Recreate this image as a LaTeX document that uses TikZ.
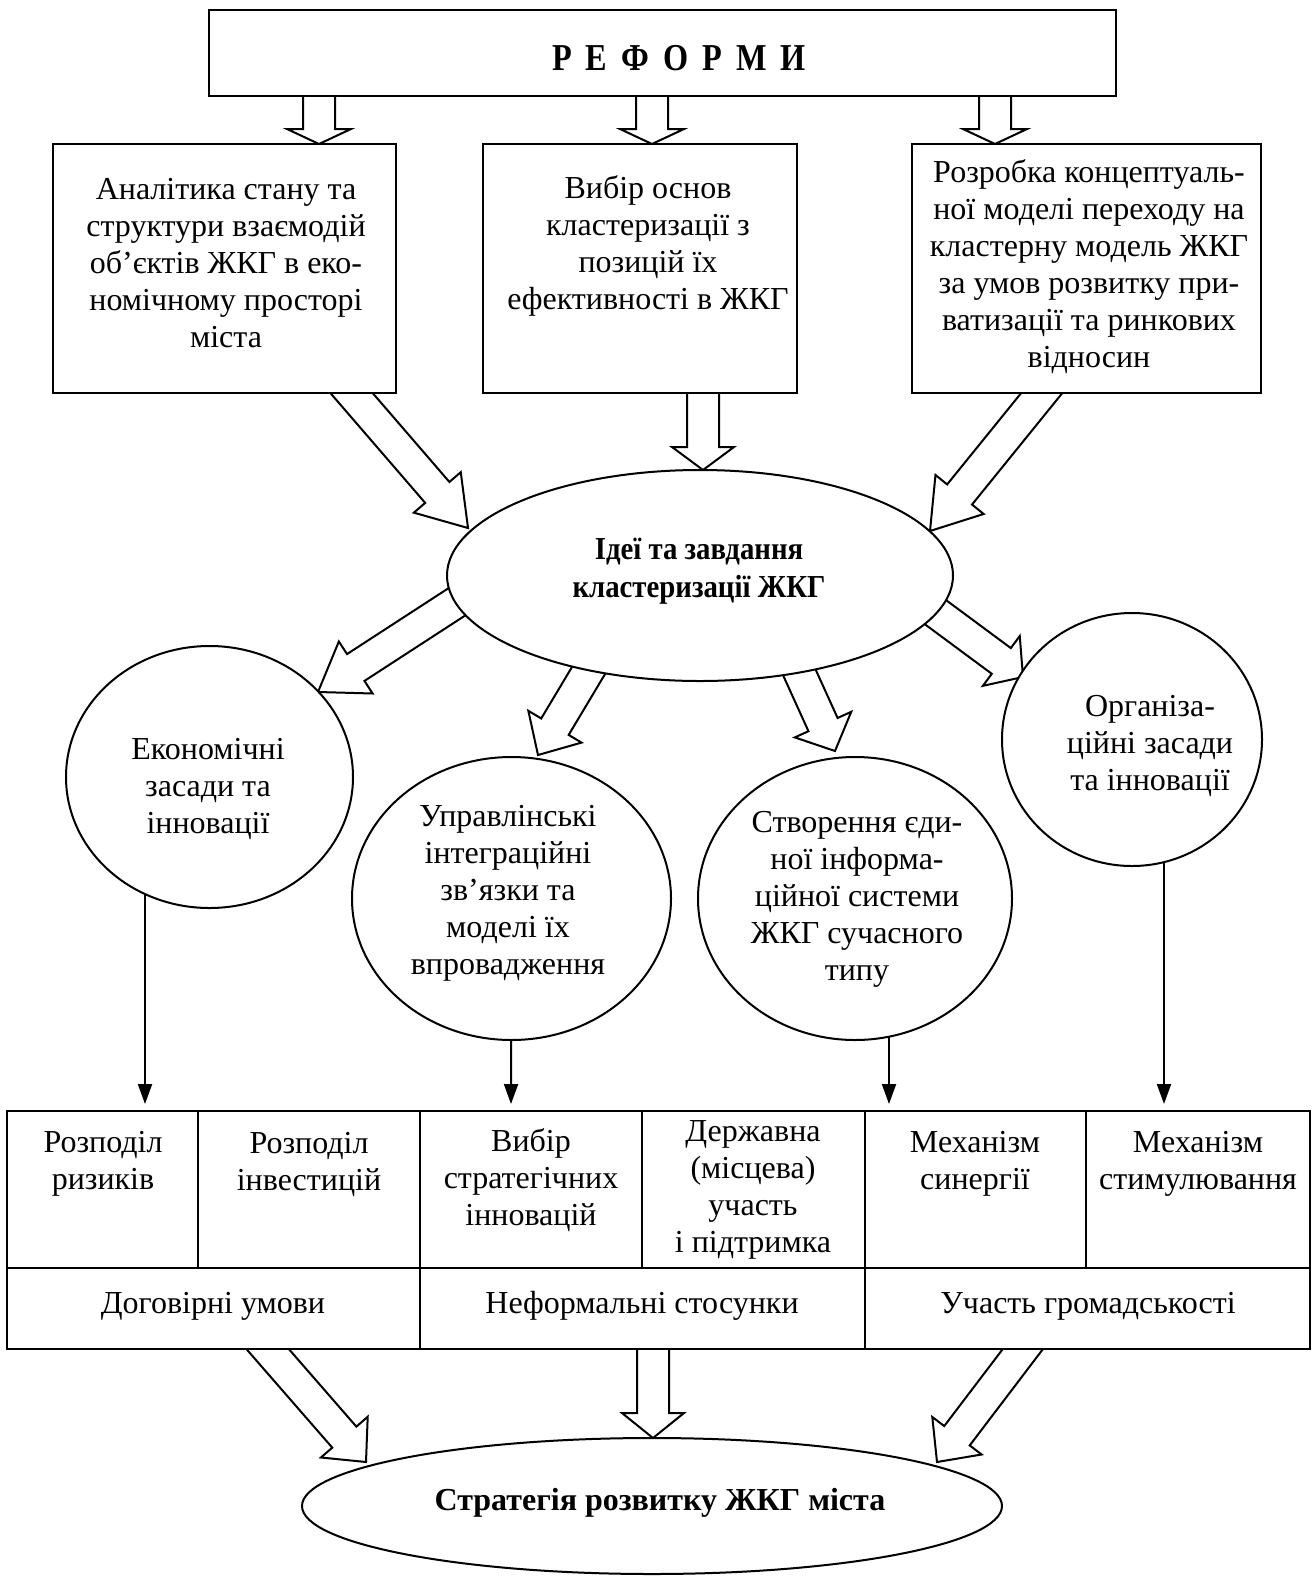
\documentclass[tikz,border=0pt]{standalone}
\usepackage{fontspec}
\setmainfont{Liberation Serif}
\newfontfamily\condA[FakeStretch=0.85]{Liberation Serif}
\newfontfamily\condB[FakeStretch=0.9]{Liberation Serif}
\usetikzlibrary{calc,shapes.geometric,arrows.meta}
\pgfdeclarelayer{bg}
\pgfsetlayers{bg,main}
\tikzset{
  every node/.style={inner sep=0pt, outer sep=0pt},
  shp/.style={draw, line width=2pt, fill=white},
  boxnode/.style={shp, rectangle},
  ellnode/.style={shp, ellipse},
  txt/.style={align=center, font=\fontsize{32}{37}\selectfont},
  ttxt/.style={align=center, font=\fontsize{32}{37}\selectfont},
  btxt/.style={align=center, font=\fontsize{32}{38}\selectfont\bfseries},
  blockarr/.style={draw, line width=2pt, fill=white, line join=miter},
  thinarr/.style={draw, line width=2pt, -{Triangle[width=14pt,length=20pt]}},
  tline/.style={draw, line width=2pt},
}
\newcommand\blockarrow[5]{%
  \coordinate (baS) at #1;
  \coordinate (baT) at #2;
  \coordinate (baH) at ($(baT)!#5!(baS)$);
  \draw[blockarr] ($(baS)!#3!90:(baT)$) -- ($(baH)!#3!-90:(baS)$) -- ($(baH)!#4!-90:(baS)$) -- (baT) -- ($(baH)!#4!90:(baS)$) -- ($(baH)!#3!90:(baS)$) -- ($(baS)!#3!-90:(baT)$);
}
\begin{document}
\begin{tikzpicture}[x=1pt,y=-1pt]
\useasboundingbox (0,0) rectangle (1314,1580);

% top box
\node[boxnode, minimum width=907pt, minimum height=86pt] (reform) at (662,53) {};
\node[font=\fontsize{38}{44}\condA\bfseries] (reformt) at (679,58) {Р\hspace{14pt}Е\hspace{14pt}Ф\hspace{14pt}О\hspace{14pt}Р\hspace{14pt}М\hspace{14pt}И};

% first row boxes
\node[boxnode, minimum width=343pt, minimum height=249pt] (b1) at (224.5,268.5) {};
\node[txt] (b1t) at (226,263) {Аналітика стану та\\структури взаємодій\\об’єктів ЖКГ в еко-\\номічному просторі\\міста};
\node[boxnode, minimum width=314pt, minimum height=249pt] (b2) at (640,268.5) {};
\node[txt] (b2t) at (648,246) {Вибір основ\\кластеризації з\\позицій їх\\ефективності в ЖКГ};
\node[boxnode, minimum width=349pt, minimum height=249pt] (b3) at (1086.5,268.5) {};
\node[txt] (b3t) at (1089,267) {Розробка концептуаль-\\ної моделі переходу на\\кластерну модель ЖКГ\\за умов розвитку при-\\ватизації та ринкових\\відносин};

% central ellipse
\node[ellnode, minimum width=506pt, minimum height=211pt] (idea) at (700,575.5) {};
\node[align=center, font=\fontsize{32}{38}\condB\bfseries] (ideat) at (699,571) {Ідеї та завдання\\кластеризації ЖКГ};

% circles
\node[ellnode, minimum width=287pt, minimum height=262pt] (eA) at (209.5,777) {};
\node[txt] (eAt) at (208,789) {Економічні\\засади та\\інновації};
\node[ellnode, minimum width=319pt, minimum height=283pt] (eB) at (511.5,898.5) {};
\node[txt] (eBt) at (508,893) {Управлінські\\інтеграційні\\зв’язки та\\моделі їх\\впровадження};
\node[ellnode, minimum width=314pt, minimum height=283pt] (eC) at (855,898.5) {};
\node[txt] (eCt) at (857,899) {Створення єди-\\ної інформа-\\ційної системи\\ЖКГ сучасного\\типу};
\node[ellnode, minimum width=260pt, minimum height=253pt] (eD) at (1132,739.5) {};
\node[txt] (eDt) at (1150,746) {Організа-\\ційні засади\\та інновації};

% table
\node[boxnode, minimum width=1303pt, minimum height=238pt, anchor=north west] (tbl) at (7,1111) {};
\draw[tline] (tbl.west |- 0,1268) -- (tbl.east |- 0,1268);
\draw[tline] (198,1111) -- (198,1268);
\draw[tline] (420,1111) -- (420,1349);
\draw[tline] (642,1111) -- (642,1268);
\draw[tline] (865,1111) -- (865,1349);
\draw[tline] (1086,1111) -- (1086,1268);
\node[ttxt] (c1) at (103,1164) {Розподіл\\ризиків};
\node[ttxt] (c2) at (309,1164) {Розподіл\\інвестицій};
\node[ttxt] (c3) at (531,1180) {Вибір\\стратегічних\\інновацій};
\node[ttxt] (c4) at (753,1190) {Державна\\(місцева)\\участь\\і підтримка};
\node[ttxt] (c5) at (975,1164) {Механізм\\синергії};
\node[ttxt] (c6) at (1198,1164) {Механізм\\стимулювання};
\node[ttxt] (r1) at (213,1306) {Договірні умови};
\node[ttxt] (r2) at (642,1306) {Неформальні стосунки};
\node[ttxt] (r3) at (1088,1306) {Участь громадськості};

% strategy ellipse
\node[ellnode, minimum width=700pt, minimum height=136pt] (strat) at (652,1506) {};
\node[btxt] (stratt) at (660,1503) {Стратегія розвитку ЖКГ міста};

\begin{pgfonlayer}{bg}
% reforms -> boxes
\blockarrow{(319,90)}{(319,144)}{16pt}{32pt}{15pt}
\blockarrow{(652,90)}{(652,144)}{16pt}{32pt}{15pt}
\blockarrow{(995,90)}{(995,144)}{16pt}{32pt}{15pt}
% boxes -> idea
\blockarrow{(342,382)}{(468,528)}{16pt}{31pt}{47pt}
\blockarrow{(703,385)}{(703,470)}{16pt}{31pt}{23pt}
\blockarrow{(1051.5,381)}{(930,531)}{16pt}{31pt}{47pt}
% idea -> circles
\blockarrow{(472,592)}{(318,692)}{16pt}{31pt}{45pt}
\blockarrow{(599,653)}{(538,755)}{16pt}{31pt}{33pt}
\blockarrow{(791,654)}{(835,751)}{16pt}{31pt}{29pt}
\blockarrow{(919,600)}{(1023,677)}{16pt}{31pt}{27pt}
% circles -> table
\draw[thinarr] ([xshift=-64.5pt]eA.center) -- (145,1104);
\draw[thinarr] (eB.center) -- (511,1104);
\draw[thinarr] ([xshift=34pt]eC.center) -- (889,1104);
\draw[thinarr] ([xshift=32pt]eD.center) -- (1164,1104);
% table -> strategy
\blockarrow{(258,1338)}{(366,1462)}{16pt}{31pt}{33pt}
\blockarrow{(653,1340)}{(653,1438)}{16pt}{31pt}{25pt}
\blockarrow{(1032,1337)}{(937,1462)}{16pt}{31pt}{33pt}
\end{pgfonlayer}
\end{tikzpicture}
\end{document}
